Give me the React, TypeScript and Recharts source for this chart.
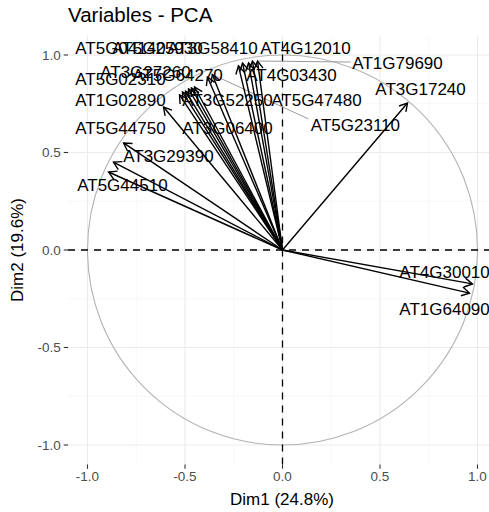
import { CartesianGrid, ReferenceArea, ReferenceLine, Scatter, ScatterChart, XAxis, YAxis } from "recharts";

const variables = [
  "AT5G04140", "AT5G25930", "AT3G58410", "AT4G12010", "AT1G79690",
  "AT3G27260", "AT5G64270", "AT4G03430", "AT5G02310", "AT3G17240",
  "AT1G02890", "AT3G52250", "AT5G47480", "AT5G23110", "AT5G44750",
  "AT3G06400", "AT3G29390", "AT5G44510", "AT4G30010", "AT1G64090",
];

// arrow tips (correlations with Dim1 / Dim2)
const dim1 = [
  -0.513, -0.482, -0.205, -0.154, -0.128,
  -0.497, -0.385, -0.174, -0.528, 0.641,
  -0.61, -0.451, -0.226, -0.36, -0.815,
  -0.467, -0.867, -0.892, 0.974, 0.959,
];
const dim2 = [
  0.81, 0.826, 0.959, 0.969, 0.969,
  0.815, 0.887, 0.959, 0.795, 0.754,
  0.733, 0.836, 0.944, 0.9, 0.549,
  0.831, 0.451, 0.4, -0.174, -0.221,
];

// repelled label centres
const labelDim1 = [
  -0.831, -0.641, -0.359, 0.118, 0.59,
  -0.703, -0.538, 0.046, -0.831, 0.708,
  -0.831, -0.282, 0.174, 0.374, -0.831,
  -0.282, -0.585, -0.821, 0.831, 0.831,
];
const labelDim2 = [
  1.031, 1.031, 1.031, 1.031, 0.954,
  0.908, 0.897, 0.897, 0.872, 0.821,
  0.769, 0.769, 0.769, 0.641, 0.621,
  0.621, 0.477, 0.333, -0.113, -0.303,
];

// labels pushed far enough to get a segment back to their arrow
const connectedVars = ["AT1G79690", "AT5G23110"];
const connectorEndDim1 = [0.349, 0.133];
const connectorEndDim2 = [0.964, 0.672];

const axisTicks = [-1, -0.5, 0, 0.5, 1];
const minorTicks = [-0.75, -0.25, 0.25, 0.75];

const FONT = '"Liberation Sans", Arial, Helvetica, sans-serif';

const labelData = variables.map((name, i) => ({ name, x: labelDim1[i], y: labelDim2[i] }));

function ArrowShape(props: any) {
  const { x1, y1, x2, y2 } = props;
  const ang = Math.atan2(y2 - y1, x2 - x1);
  const len = 9;
  const spread = Math.PI / 6;
  const hx1 = x2 - len * Math.cos(ang - spread);
  const hy1 = y2 - len * Math.sin(ang - spread);
  const hx2 = x2 - len * Math.cos(ang + spread);
  const hy2 = y2 - len * Math.sin(ang + spread);
  return (
    <g>
      <line x1={x1} y1={y1} x2={x2} y2={y2} stroke="#000" strokeWidth={1.4} />
      <polyline
        points={`${hx1},${hy1} ${x2},${y2} ${hx2},${hy2}`}
        fill="none"
        stroke="#000"
        strokeWidth={1.4}
        strokeLinejoin="miter"
      />
    </g>
  );
}

function CircleShape(props: any) {
  const { x, y, width, height } = props;
  return (
    <ellipse
      cx={x + width / 2}
      cy={y + height / 2}
      rx={width / 2}
      ry={height / 2}
      fill="none"
      stroke="#b3b3b3"
      strokeWidth={1.1}
    />
  );
}

function LabelShape(props: any) {
  const { cx, cy, payload } = props;
  return (
    <text
      x={cx}
      y={cy}
      textAnchor="middle"
      dominantBaseline="central"
      fontSize={17}
      fontFamily={FONT}
      fill="#000"
    >
      {payload.name}
    </text>
  );
}

const fmt = (v: number) => v.toFixed(1);

export default function App() {
  return (
    <div
      style={{
        position: "fixed",
        left: 0,
        top: 0,
        width: 489,
        height: 512,
        overflow: "hidden",
        background: "#fff",
        fontFamily: FONT,
      }}
    >
      <div style={{ position: "absolute", left: 68, top: 3, fontSize: 20.5, color: "#000", whiteSpace: "nowrap" }}>
        Variables - PCA
      </div>
      <ScatterChart width={497} height={512} margin={{ top: 35.5, right: 0, bottom: 0, left: 0 }}>
        <CartesianGrid stroke="#f2f2f2" strokeWidth={0.6} verticalValues={minorTicks} horizontalValues={minorTicks} />
        <CartesianGrid stroke="#ebebeb" strokeWidth={1.1} verticalValues={axisTicks} horizontalValues={axisTicks} />
        <XAxis
          type="number"
          dataKey="x"
          domain={[-1.1, 1.1]}
          ticks={axisTicks}
          tickFormatter={fmt}
          allowDataOverflow
          axisLine={false}
          tickLine={{ stroke: "#333", strokeWidth: 1.1 }}
          tickSize={4.3}
          tickMargin={3}
          height={47.5}
          tick={{ fill: "#4d4d4d", fontSize: 13.5, fontFamily: FONT }}
        />
        <YAxis
          type="number"
          dataKey="y"
          domain={[-1.1, 1.1]}
          ticks={axisTicks}
          tickFormatter={fmt}
          allowDataOverflow
          axisLine={false}
          tickLine={{ stroke: "#333", strokeWidth: 1.1 }}
          tickSize={4.3}
          tickMargin={3}
          width={68}
          tick={{ fill: "#4d4d4d", fontSize: 13.5, fontFamily: FONT }}
        />
        <ReferenceArea x1={-1} x2={1} y1={-1} y2={1} shape={CircleShape} ifOverflow="visible" />
        <ReferenceLine x={0} stroke="#000" strokeWidth={1.3} strokeDasharray="7 6" />
        <ReferenceLine y={0} stroke="#000" strokeWidth={1.3} strokeDasharray="7 6" />
        {connectedVars.map((name, k) => {
          const i = variables.indexOf(name);
          return (
            <ReferenceLine
              key={`seg-${name}`}
              segment={[
                { x: dim1[i], y: dim2[i] },
                { x: connectorEndDim1[k], y: connectorEndDim2[k] },
              ]}
              stroke="#9a9a9a"
              strokeWidth={1}
              ifOverflow="visible"
            />
          );
        })}
        {variables.map((name, i) => (
          <ReferenceLine
            key={`arrow-${name}`}
            segment={[
              { x: 0, y: 0 },
              { x: dim1[i], y: dim2[i] },
            ]}
            shape={ArrowShape}
            ifOverflow="visible"
          />
        ))}
        <Scatter data={labelData} shape={LabelShape} isAnimationActive={false} />
      </ScatterChart>
      <div
        style={{
          position: "absolute",
          left: 282,
          top: 500,
          transform: "translate(-50%, -50%)",
          fontSize: 17,
          color: "#000",
          whiteSpace: "nowrap",
        }}
      >
        Dim1 (24.8%)
      </div>
      <div
        style={{
          position: "absolute",
          left: 18,
          top: 250,
          transform: "translate(-50%, -50%) rotate(-90deg)",
          fontSize: 17,
          color: "#000",
          whiteSpace: "nowrap",
        }}
      >
        Dim2 (19.6%)
      </div>
    </div>
  );
}
